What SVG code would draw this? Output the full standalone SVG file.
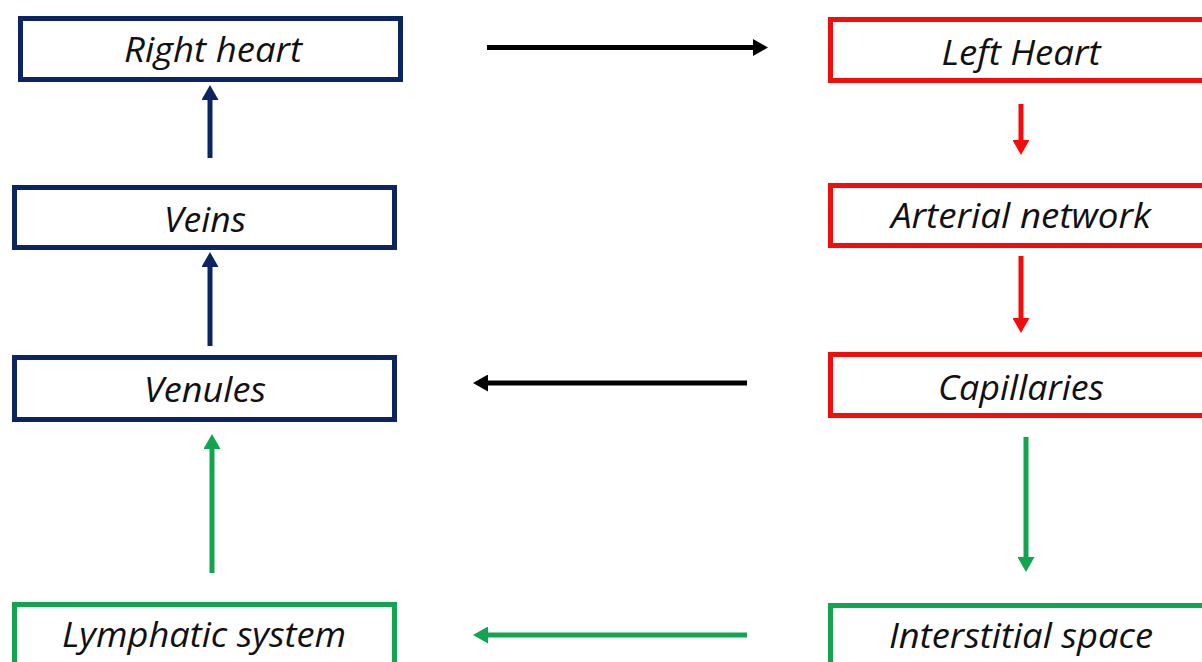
<svg xmlns="http://www.w3.org/2000/svg" width="1202" height="662" viewBox="0 0 1202 662">
<style>
.box{fill:#ffffff;stroke-width:5}
.blue{stroke:#0C2461}
.red{stroke:#F20C0C}
.green{stroke:#12A550}
.lbl{font-family:"Open Sans","Liberation Sans",sans-serif;font-style:italic;font-size:34px;fill:#111111;text-anchor:middle}
.conn{fill:none;stroke-width:5}
.k{stroke:#000000}
</style>
<defs>
<marker id="hk" viewBox="0 0 15 17" refX="5" refY="8.5" markerWidth="15" markerHeight="17" markerUnits="userSpaceOnUse" orient="auto"><path d="M0,0 L15,8.5 L0,17 Z" fill="#000000"/></marker>
<marker id="hb" viewBox="0 0 15 17" refX="5" refY="8.5" markerWidth="15" markerHeight="17" markerUnits="userSpaceOnUse" orient="auto"><path d="M0,0 L15,8.5 L0,17 Z" fill="#0C2461"/></marker>
<marker id="hr" viewBox="0 0 15 17" refX="5" refY="8.5" markerWidth="15" markerHeight="17" markerUnits="userSpaceOnUse" orient="auto"><path d="M0,0 L15,8.5 L0,17 Z" fill="#F20C0C"/></marker>
<marker id="hg" viewBox="0 0 15 17" refX="5" refY="8.5" markerWidth="15" markerHeight="17" markerUnits="userSpaceOnUse" orient="auto"><path d="M0,0 L15,8.5 L0,17 Z" fill="#12A550"/></marker>
</defs>
<rect width="1202" height="662" fill="#ffffff"/>
<g id="connectors">
<path class="conn k" d="M487,47.5 L758,47.5" marker-end="url(#hk)"/>
<path class="conn k" d="M747,383 L483,383" marker-end="url(#hk)"/>
<path class="conn green" d="M747,635 L483,635" marker-end="url(#hg)"/>
<path class="conn blue" d="M210,158 L210,95" marker-end="url(#hb)"/>
<path class="conn blue" d="M210,346 L210,262" marker-end="url(#hb)"/>
<path class="conn green" d="M212,573 L212,444" marker-end="url(#hg)"/>
<path class="conn red" d="M1021,104 L1021,145" marker-end="url(#hr)"/>
<path class="conn red" d="M1021,256 L1021,323" marker-end="url(#hr)"/>
<path class="conn green" d="M1026,437 L1026,562" marker-end="url(#hg)"/>
</g>
<g id="right-heart"><rect class="box blue" x="20.5" y="18.5" width="380" height="61"/><text class="lbl" x="213" y="62" textLength="178" lengthAdjust="spacingAndGlyphs">Right heart</text></g>
<g id="veins"><rect class="box blue" x="14.5" y="187.5" width="380" height="60"/><text class="lbl" x="205" y="232" textLength="82" lengthAdjust="spacingAndGlyphs">Veins</text></g>
<g id="venules"><rect class="box blue" x="14.5" y="357.5" width="380" height="62"/><text class="lbl" x="205" y="402" textLength="122" lengthAdjust="spacingAndGlyphs">Venules</text></g>
<g id="lymphatic-system"><rect class="box green" x="14.5" y="604.5" width="380" height="70"/><text class="lbl" x="204" y="647" textLength="284" lengthAdjust="spacingAndGlyphs">Lymphatic system</text></g>
<g id="left-heart"><rect class="box red" x="830.5" y="19.5" width="390" height="61"/><text class="lbl" x="1021" y="65" textLength="159" lengthAdjust="spacingAndGlyphs">Left Heart</text></g>
<g id="arterial-network"><rect class="box red" x="830.5" y="185.5" width="390" height="60"/><text class="lbl" x="1021" y="228" textLength="260" lengthAdjust="spacingAndGlyphs">Arterial network</text></g>
<g id="capillaries"><rect class="box red" x="830.5" y="354.5" width="390" height="61"/><text class="lbl" x="1021" y="400" textLength="166" lengthAdjust="spacingAndGlyphs">Capillaries</text></g>
<g id="interstitial-space"><rect class="box green" x="830.5" y="605.5" width="390" height="70"/><text class="lbl" x="1021" y="648" textLength="264" lengthAdjust="spacingAndGlyphs">Interstitial space</text></g>
</svg>
